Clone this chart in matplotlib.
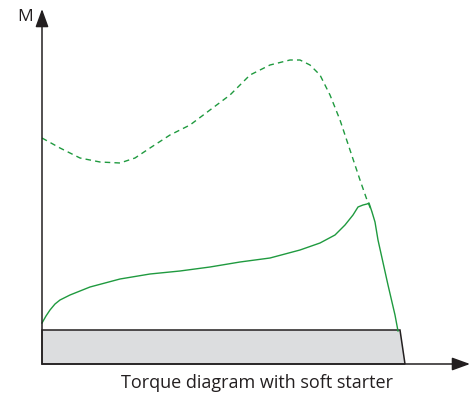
import matplotlib.pyplot as plt

# speed (x) vs torque (y)
motor_x = [0, 18, 38, 58, 78, 93, 108, 128, 148, 168, 188, 208, 228, 248, 258,
           268, 278, 288, 298, 308, 318, 325, 330]
motor_y = [226, 216, 206, 202, 201, 206, 216, 229, 239, 254, 269, 289, 299, 304, 304,
           299, 289, 269, 244, 214, 184, 164, 152]

soft_x = [0, 4, 8, 13, 18, 28, 48, 78, 108, 138, 168, 198, 228, 258, 278, 293, 303,
          311, 316, 321, 325, 327, 328, 330, 333, 336, 340, 346, 353, 356]
soft_y = [41, 48, 54, 60, 64, 69, 77, 85, 90, 93, 97, 102, 106, 114, 121, 129, 139,
          149, 157, 159, 160, 161, 158, 152, 142, 124, 106, 79, 49, 33]

load_x = [0, 358, 363, 0]
load_y = [34, 34, 0, 0]

fig = plt.figure(figsize=(4.77, 3.94), dpi=100)
ax = fig.add_axes([0, 0, 1, 1])
ax.set_xlim(-42, 435)
ax.set_ylim(-30, 364)
ax.axis('off')

green = '#1f9a3f'

# load torque
ax.fill(load_x, load_y, facecolor='#dcdddf', edgecolor='#231f20', linewidth=1.1, zorder=1)

# motor torque curves
ax.plot(motor_x, motor_y, color=green, linewidth=1.0, linestyle=(0, (4, 3)), zorder=2)
ax.plot(soft_x, soft_y, color=green, linewidth=1.0, zorder=2)

# axes with arrows
arrow = dict(arrowstyle='-|>,head_length=1.1,head_width=0.4',
             color='#231f20', lw=1.1, shrinkA=0, shrinkB=0)
ax.annotate('', xy=(428, 0), xytext=(0, 0), arrowprops=arrow)
ax.annotate('', xy=(0, 355), xytext=(0, 0), arrowprops=arrow)

ax.text(-17, 347, 'M', fontsize=12.5, family='Open Sans', color='#231f20',
        ha='center', va='center')
ax.text(215, -19, 'Torque diagram with soft starter', fontsize=13, family='Open Sans',
        color='#231f20', ha='center', va='center')

fig.savefig('out.png', dpi=100)
